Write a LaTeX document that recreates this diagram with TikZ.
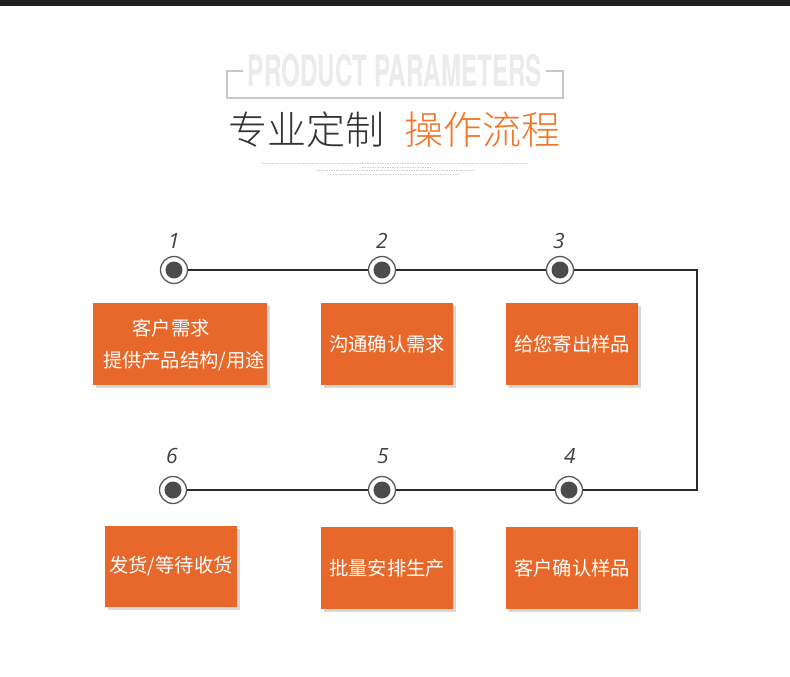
\documentclass[tikz,border=0pt]{standalone}
\usepackage{fontspec}
\usepackage{graphicx}
\setmainfont{TeX Gyre Heros}
\newfontfamily\cjk{Noto Sans CJK SC}
\newfontfamily\cjklight{Noto Sans CJK SC}[UprightFont={* Light}]
\newfontfamily\numfont{Open Sans}
\usetikzlibrary{shadows}
\definecolor{boxorange}{HTML}{E8672A}
\definecolor{titleorange}{HTML}{F3752A}
\definecolor{titlegray}{HTML}{333333}
\definecolor{linedark}{HTML}{2B2B2B}
\definecolor{framegray}{HTML}{C8C8C8}
\definecolor{ghost}{HTML}{EBEBEB}
\tikzset{
  boxfont/.style={font=\cjk\fontsize{19.3}{23}\selectfont},
  stepbox/.style={fill=boxorange, draw=none, text=white, boxfont,
    drop shadow={shadow xshift=3pt, shadow yshift=-3pt, fill=black!28, opacity=0.55}},
  ring/.style={circle, draw=black!65, line width=1.3pt, fill=white, minimum size=27pt, inner sep=0pt},
  dot/.style={circle, fill=black!70, minimum size=17pt, inner sep=0pt},
  numlbl/.style={text=black!75, font=\numfont\itshape\fontsize{21}{23}\selectfont},
  flow/.style={draw=linedark, line width=1.8pt},
  tinyline/.style={draw=black!18, line width=1pt, dash pattern=on 1.5pt off 1pt}
}
\begin{document}
\begin{tikzpicture}[x=1pt,y=-1pt]
\useasboundingbox (0,0) rectangle (790,677);
% top dark band
\fill[black!88] (0,0) rectangle (790,6);
% bracket frame
\draw[framegray, line width=1.2pt] (243,71) -- (227,71) -- (227,98) -- (563,98) -- (563,71) -- (546,71);
\node (ghosttxt) at (395,71) {\color{ghost}\resizebox{294pt}{32pt}{\bfseries PRODUCT PARAMETERS}};
% title
\node[anchor=west, inner sep=0pt, text=titlegray, font=\cjklight\fontsize{39}{42}\selectfont] (t1) at (228,130) {专业定制};
\node[anchor=west, inner sep=0pt, text=titleorange, font=\cjklight\fontsize{39}{42}\selectfont] (t2) at (404,130) {操作流程};
% tiny subtitle lines
\draw[tinyline] (262,163) -- (528,163);
\draw[tinyline] (362,167) -- (430,167);
\draw[tinyline] (316,170) -- (475,170);
\draw[tinyline] (330,174) -- (460,174);
% circles
\node[ring] (c1) at (174,270) {};
\node[ring] (c2) at (382,270) {};
\node[ring] (c3) at (560,270) {};
\node[ring] (c6) at (173,490) {};
\node[ring] (c5) at (382,490) {};
\node[ring] (c4) at (569,490) {};
\coordinate (k1) at (697,270);
\coordinate (k2) at (697,490);
\draw[flow] (c1) -- (c2);
\draw[flow] (c2) -- (c3);
\draw[flow] (c3) -- (k1) -- (k2) -- (c4);
\draw[flow] (c4) -- (c5);
\draw[flow] (c5) -- (c6);
\foreach \c in {c1,c2,c3,c4,c5,c6} { \node[dot] at (\c) {}; }
% numbers
\node[numlbl] (n1) at (174,241) {1};
\node[numlbl] (n2) at (382,241) {2};
\node[numlbl] (n3) at (559,241) {3};
\node[numlbl] (n6) at (172,456) {6};
\node[numlbl] (n5) at (383,456) {5};
\node[numlbl] (n4) at (570,456) {4};
% boxes
\node[stepbox, minimum width=174pt, minimum height=82pt] (b1) at (180,344) {};
\node[text=white, boxfont] (b1a) at (171,328) {客户需求};
\node[text=white, boxfont] (b1b) at (184,361) {提供产品结构/用途};
\node[stepbox, minimum width=132pt, minimum height=82pt] (b2) at (387,344) {沟通确认需求};
\node[stepbox, minimum width=132pt, minimum height=82pt] (b3) at (572,344) {给您寄出样品};
\node[stepbox, minimum width=132pt, minimum height=81pt] (b6) at (171,566.5) {发货/等待收货};
\node[stepbox, minimum width=132pt, minimum height=82pt] (b5) at (387,568) {批量安排生产};
\node[stepbox, minimum width=132pt, minimum height=82pt] (b4) at (572,568) {客户确认样品};
\end{tikzpicture}
\end{document}
